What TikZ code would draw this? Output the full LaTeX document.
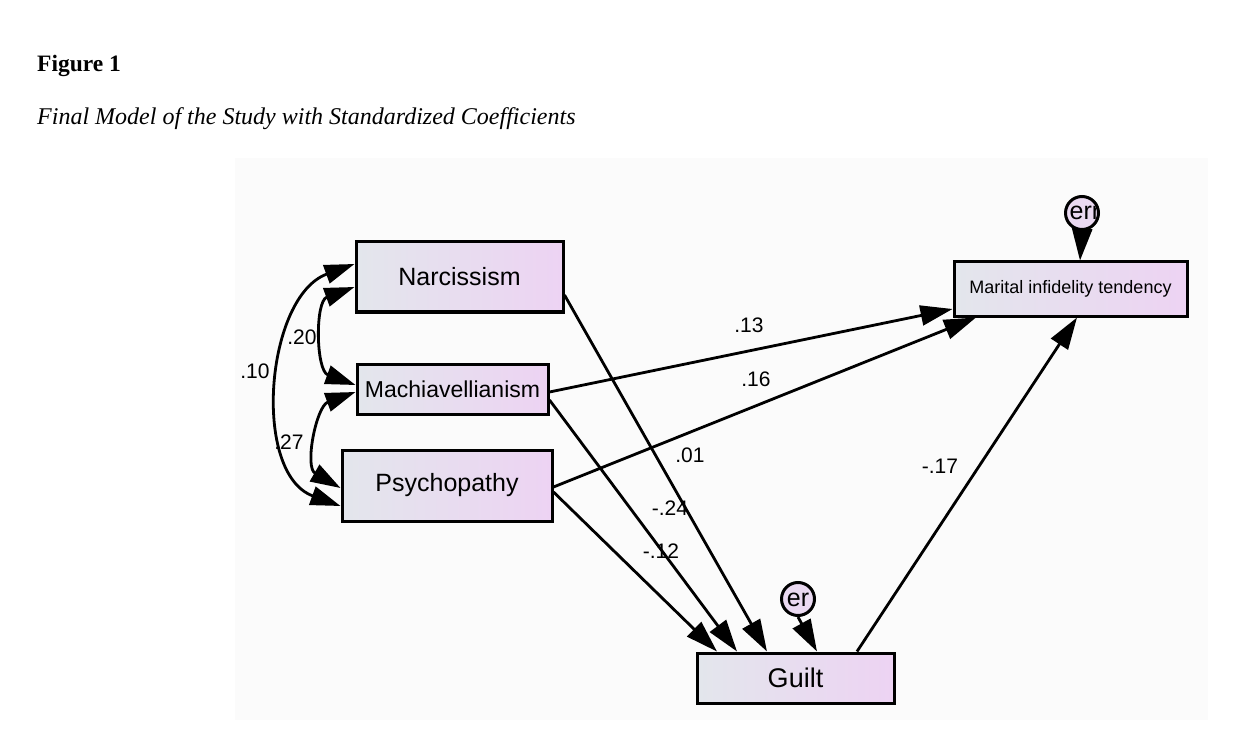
\documentclass[tikz,border=0pt]{standalone}
\usepackage{fontspec}
\setmainfont{Liberation Serif}
\newfontfamily\diagfont{Liberation Sans}
\usetikzlibrary{arrows.meta}
\definecolor{boxleft}{HTML}{E3E6EC}
\definecolor{boxright}{HTML}{EDD3F3}
\definecolor{panel}{HTML}{FBFBFB}
\begin{document}
\begin{tikzpicture}[x=1pt,y=-1pt,
  varbox/.style={draw=black, line width=3pt, left color=boxleft, right color=boxright, inner sep=0pt, font=\diagfont},
  errnode/.style={circle, draw=black, line width=3pt, fill=boxright!70!boxleft, minimum size=33pt, inner sep=0pt},
  path/.style={line width=2.8pt, -{Triangle[length=32pt,width=20pt]}},
  cov/.style={line width=2.8pt, {Triangle[length=30pt,width=19pt]}-{Triangle[length=30pt,width=19pt]}},
  coef/.style={font=\diagfont\fontsize{21}{23}\selectfont, inner sep=1pt}
]
\useasboundingbox (0,0) rectangle (1235,730);
\fill[white] (0,0) rectangle (1235,730);
\fill[panel] (235,158) rectangle (1208,720);

% title
\node[anchor=base west, inner sep=0pt, font=\bfseries\fontsize{23.5}{26}\selectfont] (fig) at (37,72) {Figure 1};
\node[anchor=base west, inner sep=0pt, font=\itshape\fontsize{24}{26}\selectfont] (cap) at (37,125) {Final Model of the Study with Standardized Coefficients};

% boxes
\node[varbox, minimum width=207pt, minimum height=70pt, font=\diagfont\fontsize{25}{27}\selectfont] (narc) at (459.5,277) {Narcissism};
\node[varbox, minimum width=191pt, minimum height=50pt, font=\diagfont\fontsize{23}{25}\selectfont] (mach) at (452.5,389) {Machiavellianism};
\node[varbox, minimum width=210pt, minimum height=71pt, font=\diagfont\fontsize{25}{27}\selectfont] (psych) at (447,485.5) {Psychopathy};
\node[varbox, minimum width=233pt, minimum height=54pt, font=\diagfont\fontsize{18}{20}\selectfont] (mit) at (1070.5,289) {Marital infidelity tendency};
\node[varbox, minimum width=197pt, minimum height=50pt, font=\diagfont\fontsize{27}{29}\selectfont] (guilt) at (795.5,678) {Guilt};

% error terms
\node[errnode, path picture={\node[font=\diagfont\fontsize{25}{27}\selectfont] at ([xshift=3pt]path picture bounding box.center) {err};}] (err) at (1082,213) {};
\node[errnode, path picture={\node[font=\diagfont\fontsize{25}{27}\selectfont] at ([yshift=-1pt]path picture bounding box.center) {er};}] (er) at (798,599) {};

% direct paths
\draw[path] (narc.east |- 0,295) -- (guilt.north -| 767,0);
\draw[path] (mach.east |- 0,400) -- (guilt.north -| 737,0);
\draw[path] (psych.east |- 0,492) -- (guilt.north -| 717,0);
\draw[path] (mach.east |- 0,392) -- (mit.west |- 0,309);
\draw[path] (psych.east |- 0,487) -- (mit.south -| 976,0);
\draw[path] (guilt.north -| 857,0) -- (mit.south -| 1077,0);
\draw[path] (err.south) -- (mit.north -| 1080,0);
\draw[path] (er.south) -- (guilt.north -| 817,0);

% covariances
\draw[cov] (narc.west |- 0,287) to[out=200, in=160, looseness=1.1] (mach.west |- 0,385);
\draw[cov] (mach.west |- 0,392) to[out=200, in=150, looseness=1.1] (psych.west |- 0,488);
\draw[cov] (narc.west |- 0,264) to[out=200, in=160, looseness=1.0] (psych.west |- 0,506);

% coefficients
\node[coef] (c13) at (749,325) {.13};
\node[coef] (c16) at (756,379) {.16};
\node[coef] (c01) at (690,455) {.01};
\node[coef] (c24) at (670,508) {-.24};
\node[coef] (c12) at (661,551) {-.12};
\node[coef] (c17) at (940,466) {-.17};
\node[coef] (c20) at (302,337) {.20};
\node[coef] (c10) at (255,371) {.10};
\node[coef] (c27) at (289,442) {.27};
\end{tikzpicture}
\end{document}
